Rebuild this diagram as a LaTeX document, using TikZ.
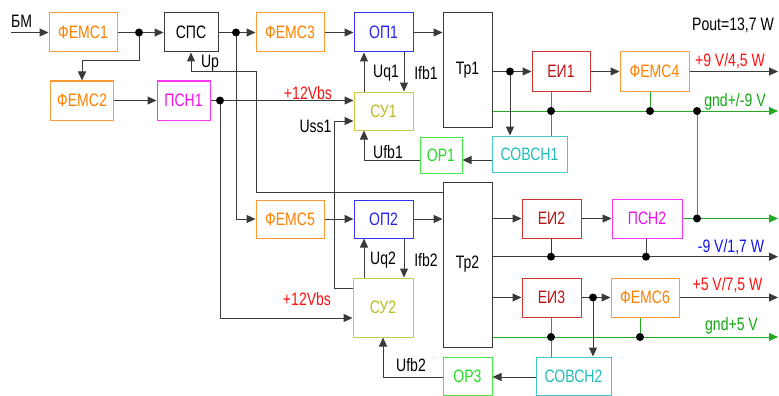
\documentclass[tikz,border=0pt]{standalone}
\usepackage{fontspec}
\setmainfont{Liberation Sans}[FakeStretch=0.78]
\usetikzlibrary{arrows.meta,calc}
\definecolor{cOrB}{HTML}{FF9933}\definecolor{cOrT}{HTML}{FF8000}
\definecolor{cBlB}{HTML}{3333FF}\definecolor{cBlT}{HTML}{2222EE}
\definecolor{cYeB}{HTML}{CCCC44}\definecolor{cYeT}{HTML}{BBBB22}
\definecolor{cMaB}{HTML}{FF33FF}\definecolor{cMaT}{HTML}{EE11EE}
\definecolor{cGrB}{HTML}{44EE44}\definecolor{cGrT}{HTML}{22DD22}
\definecolor{cCyB}{HTML}{44CCCC}\definecolor{cCyT}{HTML}{22BBBB}
\definecolor{cReB}{HTML}{CC3333}\definecolor{cReT}{HTML}{BB1111}
\definecolor{cLine}{HTML}{3A3A3A}\definecolor{cGLine}{HTML}{22AA22}
\definecolor{cLRed}{HTML}{FF1111}\definecolor{cLBlue}{HTML}{1111EE}\definecolor{cLGreen}{HTML}{11AA11}
\begin{document}
\begin{tikzpicture}[x=1pt,y=-1pt,
  font=\fontsize{18}{20}\selectfont,
  every path/.style={line width=1pt},
  box/.style={draw, line width=1pt, inner sep=0pt, anchor=center},
  wd/.style={minimum width=#1pt}, ht/.style={minimum height=#1pt},
  fem/.style={draw=cOrB,text=cOrT}, opb/.style={draw=cBlB,text=cBlT},
  suy/.style={draw=cYeB,text=cYeT}, psn/.style={draw=cMaB,text=cMaT},
  orb/.style={draw=cGrB,text=cGrT}, sovb/.style={draw=cCyB,text=cCyT},
  eib/.style={draw=cReB,text=cReT}, grb/.style={draw=cLine,text=black},
  conn/.style={draw=cLine},
  gline/.style={draw=cGLine},
  arr/.style={-{Triangle[length=9pt,width=8pt]}},
  dot/.style={circle, fill=black, inner sep=0pt, minimum size=8pt},
  lbl/.style={inner sep=0pt, anchor=center}]
\useasboundingbox (0,0) rectangle (779,396);

% boxes
\node[box,fem,wd=68,ht=39] (f1) at (83,32.5) {ФЕМС1};
\node[box,grb,wd=54,ht=39] (sps) at (191,32.5) {СПС};
\node[box,fem,wd=63,ht=39] (f2) at (82,100.5) {ФЕМС2};
\node[box,psn,wd=53,ht=39] (psn1) at (183.5,100.5) {ПСН1};
\node[box,fem,wd=68,ht=39] (f3) at (290,32.5) {ФЕМС3};
\node[box,opb,wd=59,ht=39] (op1) at (383.5,32.5) {ОП1};
\node[box,grb,wd=49,ht=114] (tp1) at (467.5,70) {Тр1};
\node[box,suy,wd=59,ht=38] (su1) at (383.5,111) {СУ1};
\node[box,orb,wd=42,ht=36] (or1) at (441,155) {ОР1};
\node[box,sovb,wd=75,ht=36] (sov1) at (529.5,154) {СОВСН1};
\node[box,eib,wd=58,ht=39] (ei1) at (561,71.5) {ЕИ1};
\node[box,fem,wd=69,ht=39] (f4) at (654.5,71.5) {ФЕМС4};
\node[box,fem,wd=68,ht=38] (f5) at (290,219) {ФЕМС5};
\node[box,opb,wd=59,ht=38] (op2) at (383.5,219) {ОП2};
\node[box,grb,wd=49,ht=165] (tp2) at (467.5,264.5) {Тр2};
\node[box,eib,wd=59,ht=39] (ei2) at (551.5,218.5) {ЕИ2};
\node[box,psn,wd=70,ht=39] (psn2) at (647,218.5) {ПСН2};
\node[box,suy,wd=60,ht=59] (su2) at (383,307.5) {СУ2};
\node[box,eib,wd=59,ht=39] (ei3) at (551.5,297.5) {ЕИ3};
\node[box,fem,wd=68,ht=39] (f6) at (645,297.5) {ФЕМС6};
\node[box,orb,wd=49,ht=38] (or3) at (467.5,376) {ОР3};
\node[box,sovb,wd=75,ht=38] (sov2) at (573.5,376) {СОВСН2};

% helper coordinates
\coordinate (bmIn) at (11,32.5);
\coordinate (b1) at (139,61);
\coordinate (u1) at (256,192);
\coordinate (u2) at (256,72);
\coordinate (u3) at (191,72);
\coordinate (s1) at (334,288);
\coordinate (s2) at (334,121);
\coordinate (uq) at (364,0);
\coordinate (ifb) at (404,0);
\coordinate (fb1) at (0,160);
\coordinate (fb2) at (0,377);
\coordinate (v12) at (0,318);
\coordinate (out1) at (778,71.5);
\coordinate (out2) at (778,111);
\coordinate (out3) at (778,218.5);
\coordinate (out4) at (778,256.7);
\coordinate (out5) at (778,297.5);
\coordinate (out6) at (778,337);

% connectors (left part)
\draw[conn,arr] (bmIn) -- (f1.west);
\draw[conn] (f1.east) -- (139,32.5) coordinate (d1c);
\draw[conn,arr] (d1c) -- (sps.west);
\draw[conn,arr] (d1c) -- (b1) -| (f2.north);
\draw[conn,arr] (f2.east) -- (psn1.west);
\draw[conn] (psn1.east) -- (220,100.5) coordinate (d2c);
\draw[conn,arr] (d2c) -- (d2c -| su1.west);
\draw[conn,arr] (d2c) |- (su2.west |- v12);
\draw[conn] (sps.east) -- (236,32.5) coordinate (d3c);
\draw[conn,arr] (d3c) -- (f3.west);
\draw[conn,arr] (d3c) |- (f5.west);
\draw[conn,arr] (tp2.west |- u1) -- (u1) -- (u2) -- (u3) -- (sps.south);
\draw[conn,arr] (f3) -- (op1);
\draw[conn,arr] (op1.east) -- (tp1.west |- op1);
\draw[conn,arr] (f5) -- (op2);
\draw[conn,arr] (op2.east) -- (tp2.west |- op2);
\draw[conn,arr] (su1.north -| uq) -- (op1.south -| uq);
\draw[conn,arr] (op1.south -| ifb) -- (su1.north -| ifb);
\draw[conn,arr] (su2.north -| uq) -- (op2.south -| uq);
\draw[conn,arr] (op2.south -| ifb) -- (su2.north -| ifb);
\draw[conn,arr] (su2.west |- s1) -- (s1) -- (s2) -- (su1.west |- s2);
\draw[conn,arr] (or1.west |- fb1) -| (su1.south -| uq);
\draw[conn,arr] (sov1.west |- fb1) -- (or1.east |- fb1);
\draw[conn,arr] (or3.west |- fb2) -| (su2.south);
\draw[conn,arr] (sov2.west |- fb2) -- (or3.east |- fb2);

% Tr1 outputs
\draw[gline,arr] (tp1.east |- out2) -- (out2);
\draw[gline] (ei1.south -| 551,0) -- (sov1.north -| 551,0);
\draw[gline] (f4.south -| 650,0) -- (650,111);
\draw[gline] (697,111) -- (697,218.5);
\draw[conn] (tp1.east |- out1) -- (510,71.5) coordinate (d4c);
\draw[conn,arr] (d4c) -- (ei1.west);
\draw[conn,arr] (d4c) -- (sov1.north -| d4c);
\draw[conn,arr] (ei1) -- (f4);
\draw[conn,arr] (f4.east) -- (out1);

% Tr2 outputs
\draw[conn,arr] (tp2.east |- ei2) -- (ei2.west);
\draw[conn,arr] (ei2) -- (psn2);
\draw[gline,arr] (psn2.east) -- (out3);
\draw[conn,arr] (tp2.east |- out4) -- (out4);
\draw[conn] (ei2.south -| 551,0) -- (551,256.7);
\draw[conn] (psn2.south -| 646,0) -- (646,256.7);
\draw[conn,arr] (tp2.east |- ei3) -- (ei3.west);
\draw[conn] (ei3.east) -- (593,297.5) coordinate (d5c);
\draw[conn,arr] (d5c) -- (f6.west);
\draw[conn,arr] (f6.east) -- (out5);
\draw[conn,arr] (d5c) -- (sov2.north -| d5c);
\draw[gline,arr] (tp2.east |- out6) -- (out6);
\draw[gline] (ei3.south -| 551,0) -- (sov2.north -| 551,0);
\draw[gline] (f6.south -| 640,0) -- (640,337);

% dots
\node[dot] (d1) at (d1c) {};
\node[dot] (d2) at (d2c) {};
\node[dot] (d3) at (d3c) {};
\node[dot] (d4) at (d4c) {};
\node[dot] (d5) at (d5c) {};
\node[dot] (g1) at (551,111) {};
\node[dot] (g2) at (650,111) {};
\node[dot] (g3) at (697,111) {};
\node[dot] (g4) at (697,218.5) {};
\node[dot] (n1) at (551,256.7) {};
\node[dot] (n2) at (646,256.7) {};
\node[dot] (g5) at (551,337) {};
\node[dot] (g6) at (640,337) {};

% labels
\node[lbl] (tBM) at (21.5,21.5) {БМ};
\node[lbl] (tUp) at (210,63) {Up};
\node[lbl,text=cLRed] (tV1) at (308,93) {+12Vbs};
\node[lbl] (tUq1) at (386,73) {Uq1};
\node[lbl] (tIfb1) at (426,73) {Ifb1};
\node[lbl,anchor=east] (tUss) at (332,126) {Uss1};
\node[lbl] (tUfb1) at (388,152) {Ufb1};
\node[lbl] (tUq2) at (383,260) {Uq2};
\node[lbl] (tIfb2) at (426,260) {Ifb2};
\node[lbl,text=cLRed] (tV2) at (307,299) {+12Vbs};
\node[lbl] (tUfb2) at (411,365) {Ufb2};
\node[lbl] (tPout) at (733,25.5) {Pout=13,7 W};
\node[lbl,text=cLRed] (tO1) at (730,61) {+9 V/4,5 W};
\node[lbl,text=cLGreen] (tO2) at (735,102) {gnd+/-9 V};
\node[lbl,text=cLBlue] (tO4) at (731,247) {-9 V/1,7 W};
\node[lbl,text=cLRed] (tO5) at (727.5,285) {+5 V/7,5 W};
\node[lbl,text=cLGreen] (tO6) at (731.5,326) {gnd+5 V};
\end{tikzpicture}
\end{document}
